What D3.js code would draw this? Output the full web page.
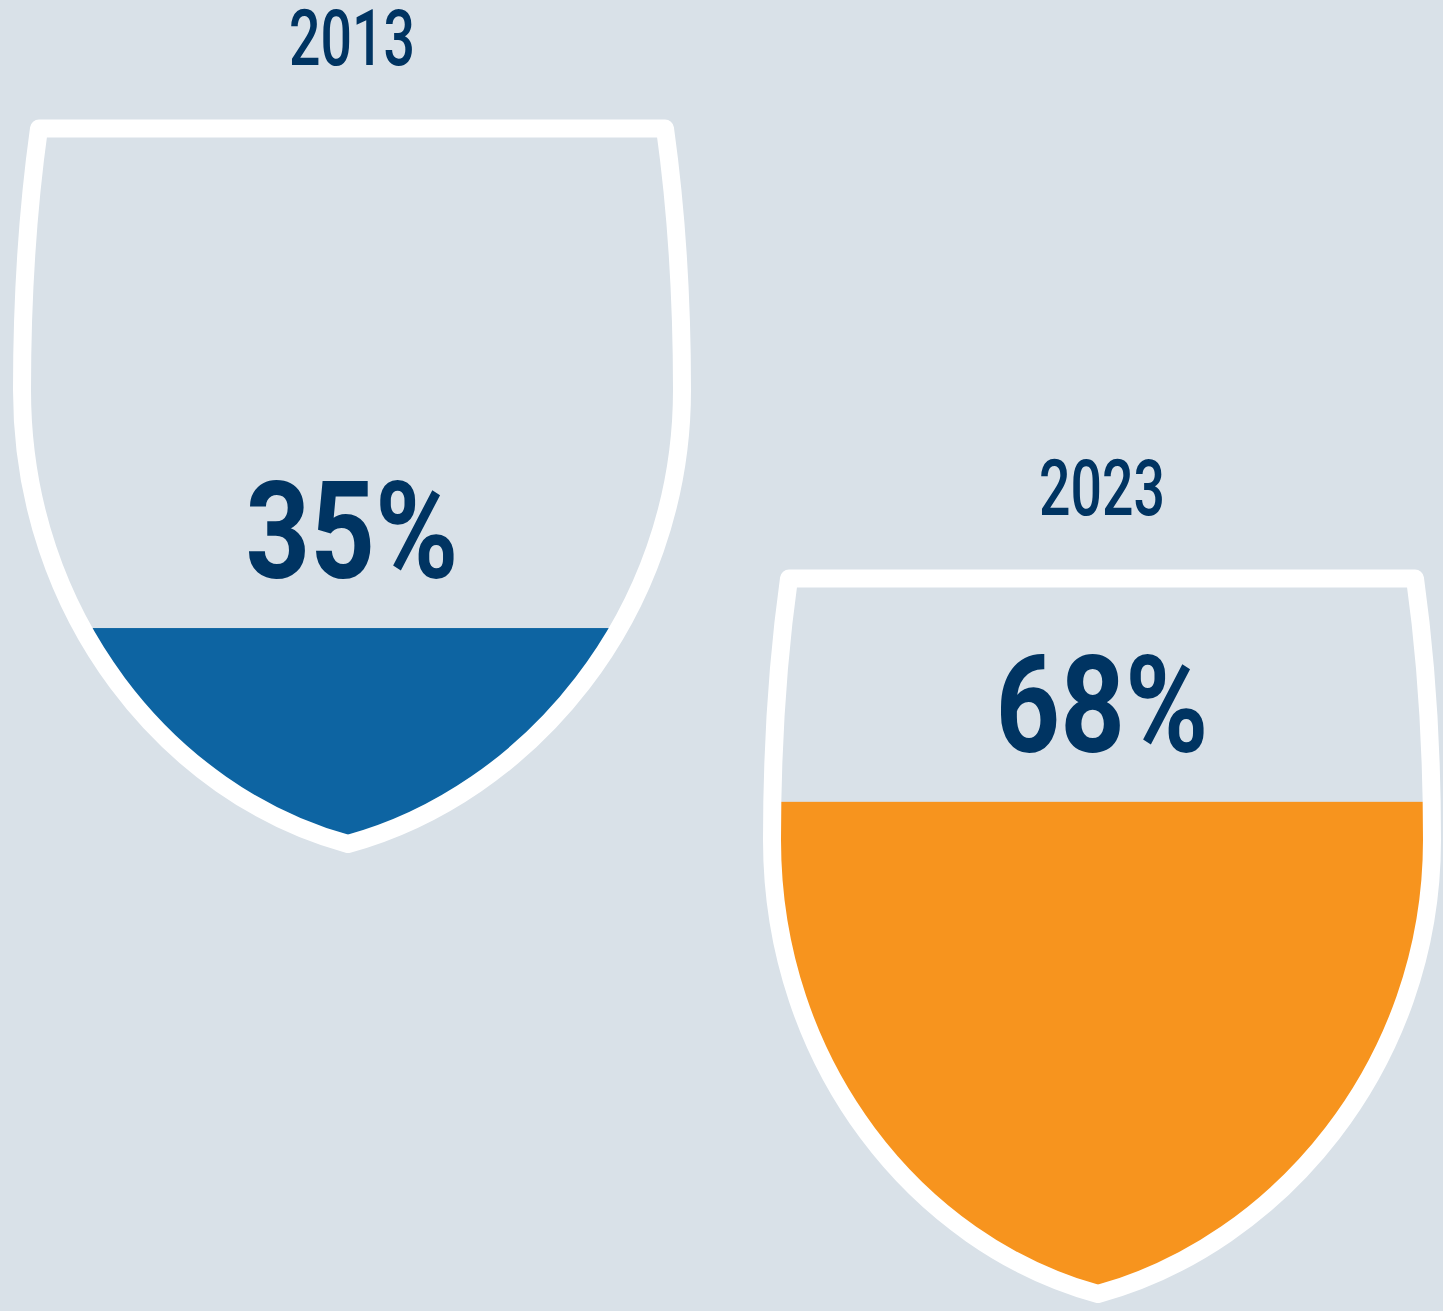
<!DOCTYPE html>
<html><head><meta charset="utf-8">
<script src="https://cdn.jsdelivr.net/npm/d3@7"></script>
<style>
html,body{margin:0;padding:0;background:#d9e1e8;}
svg{display:block;}
</style></head>
<body>
<script>
// ---- data ----
const years = ["2013", "2023"];
const values = [35, 68];
const fillColors = ["#0d64a2", "#f7941e"];

const W = 1443, H = 1311;
const svg = d3.select("body").append("svg").attr("width", W).attr("height", H);
svg.append("rect").attr("width", W).attr("height", H).attr("fill", "#d9e1e8");

// shield placement (group offsets)
const offsets = [[0, 0], [750, 450]];
// fill level scale (shield-local y)
const y = d3.scaleLinear().domain([0, 100]).range([921, 84]);

// shield outline (center line of the white stroke), local coords
const cx = 352, tipX = 348;
const shieldPath = (() => {
  const p = d3.path();
  const topY = 128.5, topHalf = 313, sideHalf = 330, sideY = 390, tipY = 844;
  p.moveTo(cx - topHalf, topY);
  p.lineTo(cx + topHalf, topY);
  p.bezierCurveTo(cx + topHalf + 10, 200, cx + sideHalf, 280, cx + sideHalf, sideY);
  p.bezierCurveTo(cx + sideHalf, 615, tipX + 180, 795, tipX, tipY);
  p.bezierCurveTo(tipX - 180, 795, cx - sideHalf, 615, cx - sideHalf, sideY);
  p.bezierCurveTo(cx - sideHalf, 280, cx - topHalf - 10, 200, cx - topHalf, topY);
  p.closePath();
  return p.toString();
})();

const defs = svg.append("defs");
defs.append("clipPath").attr("id", "shieldClip")
  .append("path").attr("d", shieldPath);

const g = svg.selectAll("g.shield")
  .data(years.map((yr, i) => ({ year: yr, value: values[i], color: fillColors[i], off: offsets[i] })))
  .enter().append("g").attr("class", "shield")
  .attr("transform", d => `translate(${d.off[0]},${d.off[1]})`);

// fill
g.append("rect")
  .attr("clip-path", "url(#shieldClip)")
  .attr("x", 0).attr("width", 720)
  .attr("y", d => y(d.value))
  .attr("height", d => 900 - y(d.value))
  .attr("fill", d => d.color);

// outline
g.append("path")
  .attr("d", shieldPath)
  .attr("fill", "none")
  .attr("stroke", "#ffffff")
  .attr("stroke-width", 18)
  .attr("stroke-linejoin", "round");

// value label
g.append("text")
  .attr("transform", d => `translate(${cx},${y(d.value) - 50}) scale(0.83,1)`)
  .attr("text-anchor", "middle")
  .attr("font-family", "Roboto, 'Noto Sans', sans-serif")
  .attr("font-weight", 700)
  .attr("font-size", 136)
  .attr("fill", "#003462")
  .text(d => d.value + "%");

// year label
g.append("text")
  .attr("transform", `translate(${cx},65) scale(0.72,1)`)
  .attr("text-anchor", "middle")
  .attr("font-family", "Roboto, 'Noto Sans', sans-serif")
  .attr("font-weight", 500)
  .attr("font-size", 77)
  .attr("fill", "#003462")
  .text(d => d.year);
</script>
</body></html>
